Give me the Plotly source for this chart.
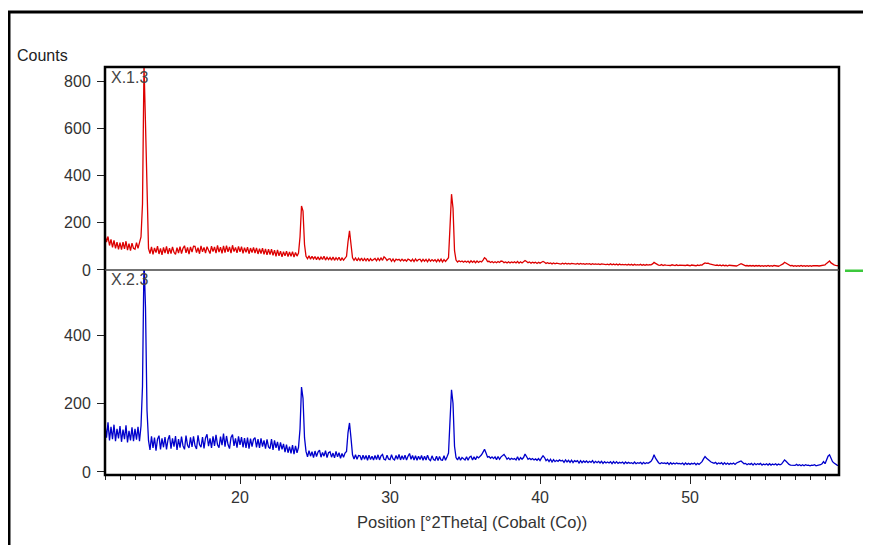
import numpy as np
import plotly.graph_objects as go

# 2Theta grid (degrees, Cobalt radiation)
theta_start = 11.0
theta_step = 0.1

# Pattern X.1.3 (upper panel, counts) - one row per degree, 11.0 .. 59.9
counts_x13 = [
    150, 118, 142, 104, 130, 96, 126, 92, 118, 88,
    116, 86, 118, 90, 122, 84, 112, 82, 114, 92,
    88, 116, 92, 122, 140, 280, 870, 620, 270, 92,
    70, 98, 66, 94, 74, 101, 68, 92, 64, 96,
    72, 100, 68, 93, 70, 98, 75, 66, 95, 72,
    99, 70, 92, 103, 73, 96, 67, 98, 76, 101,
    100, 74, 95, 69, 102, 77, 96, 72, 99, 80,
    70, 101, 78, 98, 72, 104, 76, 97, 71, 102,
    74, 103, 77, 98, 72, 105, 78, 96, 73, 100,
    77, 99, 71, 95, 75, 97, 69, 93, 74, 96,
    72, 94, 68, 90, 70, 93, 66, 89, 64, 88,
    65, 88, 62, 84, 58, 85, 60, 80, 56, 78,
    60, 80, 57, 76, 58, 78, 55, 74, 59, 72,
    140, 272, 250, 108, 58, 48, 60, 46, 58, 47,
    57, 44, 56, 43, 55, 45, 58, 42, 54, 44,
    53, 42, 55, 41, 52, 43, 54, 40, 51, 42,
    52, 58, 120, 166, 108, 52, 41, 51, 39, 50,
    40, 51, 38, 49, 39, 50, 37, 48, 40, 46,
    49, 39, 50, 40, 51, 41, 56, 50, 40, 46,
    48, 37, 47, 36, 46, 42, 45, 38, 46, 39,
    44, 37, 46, 43, 37, 46, 36, 47, 38, 44,
    46, 36, 45, 37, 45, 35, 46, 37, 44, 38,
    44, 35, 45, 36, 46, 34, 44, 36, 43, 52,
    185, 322, 262, 82, 42, 34, 39, 35, 38, 33,
    38, 33, 38, 31, 39, 32, 38, 31, 38, 32,
    37, 34, 42, 52, 47, 36, 37, 32, 36, 31,
    35, 31, 36, 32, 38, 37, 31, 34, 30, 35,
    30, 34, 31, 35, 30, 36, 29, 35, 30, 36,
    40, 36, 31, 34, 29, 33, 30, 33, 28, 33,
    29, 33, 36, 33, 28, 31, 27, 30, 26, 30,
    26, 29, 27, 28, 25, 29, 25, 29, 25, 28,
    25, 28, 26, 27, 25, 28, 24, 28, 25, 27,
    24, 27, 25, 27, 23, 27, 24, 26, 24, 26,
    23, 26, 24, 25, 23, 25, 22, 26, 22, 25,
    22, 25, 21, 25, 22, 24, 22, 24, 21, 24,
    21, 24, 20, 24, 21, 23, 21, 24, 20, 23,
    20, 23, 21, 23, 22, 26, 32, 28, 24, 21,
    20, 23, 19, 22, 21, 20, 22, 19, 22, 20,
    19, 22, 19, 21, 20, 19, 21, 19, 21, 19,
    18, 21, 20, 21, 18, 21, 19, 22, 21, 26,
    30, 28, 29, 26, 24, 22, 23, 20, 21, 19,
    21, 18, 21, 18, 20, 17, 20, 19, 20, 17,
    19, 17, 20, 23, 27, 24, 21, 18, 19, 17,
    19, 17, 19, 16, 19, 17, 19, 16, 18, 16,
    18, 16, 19, 16, 18, 16, 19, 17, 18, 16,
    19, 21, 26, 33, 29, 24, 21, 18, 19, 16,
    18, 16, 18, 16, 19, 16, 18, 16, 18, 16,
    18, 16, 18, 19, 17, 18, 17, 19, 20, 22,
    22, 28, 34, 38, 30, 25, 22, 20, 19, 18,
]

# Pattern X.2.3 (lower panel, counts)
counts_x23 = [
    140, 100, 145, 92, 132, 96, 138, 90, 126, 98,
    134, 88, 124, 96, 136, 86, 120, 92, 130, 90,
    126, 94, 132, 90, 134, 250, 620, 480, 180, 92,
    64, 104, 70, 100, 62, 96, 106, 66, 98, 72,
    102, 66, 94, 107, 68, 98, 74, 105, 64, 96,
    71, 103, 76, 66, 106, 78, 70, 101, 73, 104,
    77, 67, 107, 80, 72, 102, 69, 99, 110, 75,
    98, 70, 104, 76, 108, 79, 71, 103, 78, 112,
    74, 105, 80, 68, 101, 109, 76, 98, 71, 104,
    79, 102, 72, 99, 70, 100, 68, 97, 74, 95,
    100, 72, 96, 70, 98, 74, 92, 68, 95, 73,
    68, 96, 64, 92, 70, 88, 62, 86, 66, 82,
    58, 80, 56, 74, 54, 78, 52, 76, 56, 72,
    125, 248, 215, 100, 60, 44, 62, 46, 59, 42,
    61, 45, 58, 64, 43, 57, 46, 62, 42, 56,
    59, 43, 55, 41, 60, 44, 56, 40, 54, 43,
    55, 60, 115, 143, 98, 50, 38, 50, 37, 48,
    47, 35, 49, 37, 48, 34, 49, 36, 46, 35,
    48, 36, 50, 35, 47, 51, 37, 35, 49, 38,
    36, 50, 38, 35, 48, 37, 51, 35, 47, 36,
    49, 35, 46, 54, 37, 48, 35, 47, 34, 46,
    36, 48, 34, 46, 35, 49, 37, 33, 47, 36,
    34, 46, 33, 45, 35, 34, 47, 34, 44, 55,
    150, 240, 200, 75, 42, 35, 44, 34, 42, 37,
    35, 44, 34, 43, 46, 35, 44, 36, 45, 41,
    45, 50, 58, 66, 55, 43, 45, 40, 44, 39,
    44, 36, 45, 37, 44, 48, 51, 45, 37, 41,
    36, 40, 37, 39, 35, 44, 34, 42, 37, 42,
    52, 45, 37, 40, 36, 39, 35, 38, 34, 39,
    33, 41, 47, 42, 33, 37, 30, 37, 29, 36,
    30, 34, 31, 35, 32, 34, 28, 35, 29, 34,
    28, 34, 27, 33, 30, 33, 26, 33, 27, 32,
    28, 32, 27, 31, 28, 33, 26, 31, 27, 31,
    26, 31, 25, 30, 26, 29, 26, 30, 24, 30,
    25, 30, 25, 28, 26, 29, 24, 29, 25, 28,
    25, 27, 24, 29, 24, 27, 25, 28, 23, 28,
    24, 27, 25, 28, 31, 38, 50, 40, 32, 27,
    24, 27, 25, 26, 24, 27, 22, 27, 23, 26,
    23, 26, 24, 25, 23, 26, 21, 26, 22, 25,
    22, 25, 23, 26, 21, 25, 22, 26, 30, 38,
    45, 40, 36, 32, 29, 27, 25, 28, 23, 26,
    24, 27, 22, 27, 22, 26, 22, 25, 23, 26,
    22, 26, 27, 30, 32, 28, 24, 25, 21, 24,
    22, 25, 20, 25, 21, 24, 22, 25, 20, 23,
    21, 24, 20, 24, 20, 23, 21, 24, 20, 23,
    21, 23, 28, 35, 31, 26, 22, 20, 19, 18,
    19, 22, 19, 21, 18, 21, 18, 21, 19, 20,
    18, 20, 19, 21, 18, 19, 19, 21, 24, 30,
    24, 35, 46, 50, 38, 30, 26, 22, 20, 18,
]

x_tick_vals = [20, 30, 40, 50]
upper_tick_vals = [0, 200, 400, 600, 800]
lower_tick_vals = [0, 200, 400]
label_upper = "X.1.3"
label_lower = "X.2.3"
y_title = "Counts"
x_title = "Position [°2Theta] (Cobalt (Co))"

theta = np.round(theta_start + theta_step * np.arange(len(counts_x13)), 2)

split = 0.5025
font_family = "Liberation Sans, Arial, sans-serif"
txt_col = "#333333"

fig = go.Figure()
fig.add_trace(go.Scatter(x=theta, y=counts_x23, mode="lines", xaxis="x", yaxis="y",
                         line=dict(color="#0000cc", width=1.3), showlegend=False))
fig.add_trace(go.Scatter(x=theta, y=counts_x13, mode="lines", xaxis="x", yaxis="y2",
                         line=dict(color="#dd0000", width=1.3), showlegend=False))

axis_common = dict(showgrid=False, zeroline=False, showline=False, ticks="outside",
                   tickcolor="#222222", tickwidth=1,
                   tickfont=dict(family=font_family, size=16, color=txt_col))

fig.update_layout(
    width=863, height=537,
    margin=dict(l=97, r=32, t=59, b=70),
    paper_bgcolor="white", plot_bgcolor="white",
    font=dict(family=font_family, size=16, color=txt_col),
    xaxis=dict(range=[11.0, 59.93], tickvals=x_tick_vals, ticklen=8, anchor="y",
               minor=dict(dtick=1, tick0=0, ticks="outside", ticklen=4, tickcolor="#222222"),
               **axis_common),
    yaxis=dict(domain=[0, split], range=[-9, 590], tickvals=lower_tick_vals, ticklen=7,
               anchor="x", ticklabelstandoff=3, **axis_common),
    yaxis2=dict(domain=[split, 1], range=[0, 862], tickvals=upper_tick_vals, ticklen=7,
                anchor="x", ticklabelstandoff=3, **axis_common),
    shapes=[
        dict(type="rect", xref="paper", yref="paper", x0=0, x1=1, y0=0, y1=1,
             line=dict(color="black", width=2.5)),
        dict(type="line", xref="paper", yref="paper", x0=0, x1=1, y0=split, y1=split,
             line=dict(color="#444444", width=1.5)),
        dict(type="rect", xref="paper", yref="paper", x0=-0.1308, x1=1.3, y0=-0.4, y1=1.1348,
             line=dict(color="black", width=3)),
        dict(type="line", xref="paper", yref="paper", x0=1.0082, x1=1.06, y0=split - 0.002,
             y1=split - 0.002, line=dict(color="#3cc83c", width=2.5)),
    ],
    annotations=[
        dict(text=y_title, xref="paper", yref="paper", x=-0.1226, y=1.0294,
             xanchor="left", yanchor="middle", showarrow=False,
             font=dict(family=font_family, size=16, color="#222222")),
        dict(text=label_upper, xref="paper", yref="paper", x=0.006, y=0.975,
             xanchor="left", yanchor="middle", showarrow=False,
             font=dict(family=font_family, size=16, color="#444444")),
        dict(text=label_lower, xref="paper", yref="paper", x=0.006, y=0.478,
             xanchor="left", yanchor="middle", showarrow=False,
             font=dict(family=font_family, size=16, color="#444444")),
        dict(text=x_title, xref="paper", yref="paper", x=0.5, y=-0.115,
             xanchor="center", yanchor="middle", showarrow=False,
             font=dict(family=font_family, size=16.5, color=txt_col)),
    ],
)

fig.write_html("out.html")
